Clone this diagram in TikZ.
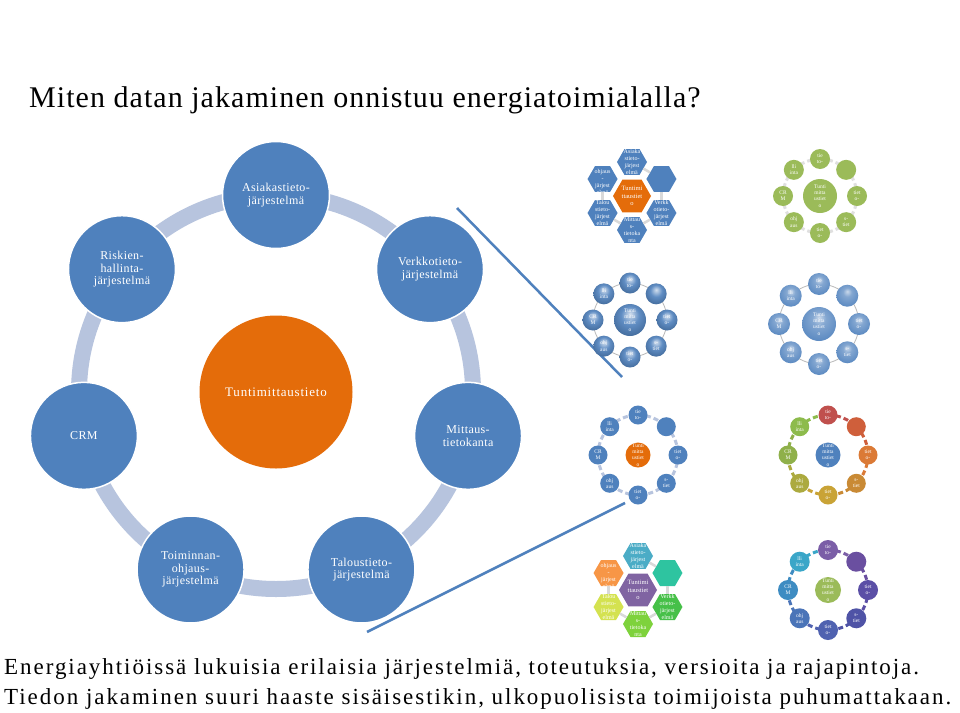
\documentclass[tikz,border=0pt]{standalone}
\usepackage{fontspec}
\setmainfont{Liberation Serif}
\usetikzlibrary{shapes.geometric,calc}
\definecolor{mblue}{HTML}{4F81BD}
\definecolor{morange}{HTML}{E46C0A}
\definecolor{ringc}{HTML}{B7C4DE}
\definecolor{tgreen}{HTML}{9BBB59}
\definecolor{tpurple}{HTML}{8064A2}
\pgfdeclareradialshading{glossdark}{\pgfpoint{0bp}{10bp}}{color(0bp)=(mblue!25!white); color(14bp)=(mblue!90!white); color(32bp)=(mblue!80!black); color(50bp)=(mblue!70!black)}
\pgfdeclareradialshading{glosslight}{\pgfpoint{0bp}{10bp}}{color(0bp)=(mblue!30!white); color(10bp)=(mblue!70!white); color(35bp)=(mblue); color(50bp)=(mblue!85!black)}
\newcommand\satlabel[1]{\ifcase#1\or tie\\to-\or \or tiet\\o-\or s-\\tiet\or tiet\\o-\or ohj\\aus\or CR\\M\or lli\\inta\fi}
\newcommand\hexlabel[1]{\ifcase#1\or Asiaka\\stieto-\\järjest\\elmä\or \or Verkk\\otieto-\\järjest\\elmä\or Mittau\\s-\\tietoka\\nta\or Talou\\stieto-\\järjest\\elmä\or nnan-\\ohjaus\\-\\järjest\\elmä\fi}
% #1 prefix, #2 centre, #3 ring radius, #4 satellite diameter, #5 centre style, #6 list angle/colour, #7 satellite fill key, #8 connector style
\newcommand\RingThumb[8]{%
  \coordinate (#1c) at (#2);
  \foreach \a/\col in {#6}{\draw[draw=\col,#8] ([shift={(\a:#3)}]#1c) arc[start angle=\a, end angle=\a-45, radius=#3];}
  \foreach \a/\col [count=\i] in {#6}{%
    \node[thshape, minimum size=#4, #7] (#1s\i) at ([shift={(\a:#3)}]#1c) {};
    \node[thtxt] (#1t\i) at (#1s\i) {\satlabel{\i}};}
  \node[thshape, #5] (#1m) at (#1c) {};
  \node[thtxt] (#1mt) at (#1m) {Tunti\\mitta\\ustiet\\o};
}
% #1 prefix, #2 centre, #3 list angle/colour, #4 centre colour
\newcommand\HexThumb[4]{%
  \coordinate (#1c) at (#2);
  \foreach \a/\col [count=\i] in {#3}{%
    \node[thhex, fill=\col] (#1s\i) at ([shift={(\a:34pt)}]#1c) {};
    \node[thtxt, font=\fontsize{6}{7.2}\selectfont] (#1t\i) at (#1s\i) {\hexlabel{\i}};}
  \foreach \i/\j in {1/2,2/3,3/4,4/5,5/6}{\draw[chev] (#1s\i) -- (#1s\j);}
  \node[thhex, minimum size=38pt, fill=#4] (#1m) at (#1c) {};
  \node[thtxt, font=\fontsize{6.5}{7.5}\selectfont] (#1mt) at (#1m) {Tuntimi\\ttaustiet\\o};
}
\begin{document}
\begin{tikzpicture}[x=1pt,y=-1pt,
  mc/.style={circle, fill=mblue, draw=white, line width=1.5pt, minimum size=107pt, inner sep=0pt,
    text=white, align=center, font=\fontsize{12}{12.5}\selectfont\addfontfeatures{LetterSpace=3}},
  thshape/.style={circle, inner sep=0pt, draw=none},
  thtxt/.style={inner sep=0pt, text=white, align=center, font=\fontsize{5.5}{6.2}\selectfont},
  thhex/.style={regular polygon, regular polygon sides=6, minimum size=30pt, inner sep=0pt, draw=none},
  chev/.style={gray!30, line width=2.5pt},
  ptr/.style={mblue, line width=2.5pt},
  foot/.style={anchor=base west, inner sep=0pt, font=\fontsize{23}{28}\selectfont\addfontfeatures{LetterSpace=8.5}}]
\useasboundingbox (0,0) rectangle (960,712);
\fill[white] (0,0) rectangle (960,712);

% title and footer
\node[anchor=base west, inner sep=0pt, font=\fontsize{30}{36}\selectfont\addfontfeatures{LetterSpace=3.5}] (title) at (29,107) {Miten datan jakaminen onnistuu energiatoimialalla?};
\node[foot] (foot1) at (4,674) {Energiayhtiöissä lukuisia erilaisia järjestelmiä, toteutuksia, versioita ja rajapintoja.};
\node[foot] (foot2) at (4,704) {Tiedon jakaminen suuri haaste sisäisestikin, ulkopuolisista toimijoista puhumattakaan.};

% main cycle
\coordinate (ctr) at (276,392);
\draw[ringc, line width=16pt] (ctr) circle[radius=197pt];
\node[circle, fill=morange, minimum size=153pt, inner sep=0pt, text=white,
  font=\fontsize{13}{13}\selectfont\addfontfeatures{LetterSpace=6}] (tunti) at (ctr) {Tuntimittaustieto};
\node[mc] (asiak)   at ([shift={(90:197pt)}]ctr)     {Asiakastieto-\\järjestelmä};
\node[mc] (riski)   at ([shift={(141.43:197pt)}]ctr) {Riskien-\\hallinta-\\järjestelmä};
\node[mc] (crm)     at ([shift={(192.86:197pt)}]ctr) {CRM};
\node[mc] (toim)    at ([shift={(244.29:197pt)}]ctr) {Toiminnan-\\ohjaus-\\järjestelmä};
\node[mc] (talous)  at ([shift={(295.71:197pt)}]ctr) {Taloustieto-\\järjestelmä};
\node[mc] (mittaus) at ([shift={(347.14:197pt)}]ctr) {Mittaus-\\tietokanta};
\node[mc] (verkko)  at ([shift={(38.57:197pt)}]ctr)  {Verkkotieto-\\järjestelmä};

% pointer lines
\coordinate (l1a) at (457,208); \coordinate (l1b) at (622,377);
\coordinate (l2a) at (367,632); \coordinate (l2b) at (625,503);
\draw[ptr] (l1a) -- (l1b);
\draw[ptr] (l2a) -- (l2b);

% thumbnails
\HexThumb{hA}{632,196}{90/mblue,30/mblue,-30/mblue,-90/mblue,-150/mblue,150/mblue}{morange}
\HexThumb{hB}{638,590}{90/{rgb,255:red,75;green,172;blue,198},30/{rgb,255:red,46;green,196;blue,160},-30/{rgb,255:red,70;green,192;blue,72},-90/{rgb,255:red,126;green,210;blue,60},-150/{rgb,255:red,212;green,226;blue,80},150/{rgb,255:red,247;green,150;blue,70}}{tpurple}

\RingThumb{rA}{820,196}{37pt}{20pt}{minimum size=34pt, fill=tgreen}
  {90/tgreen,45/tgreen,0/tgreen,-45/tgreen,-90/tgreen,-135/tgreen,180/tgreen,135/tgreen}
  {fill=\col}{draw=gray!25, line width=3pt, dash pattern=on 5pt off 3pt}

\RingThumb{rB}{630,320}{37pt}{21pt}{minimum size=32pt, shading=glossdark}
  {90/mblue,45/mblue,0/mblue,-45/mblue,-90/mblue,-135/mblue,180/mblue,135/mblue}
  {shading=glossdark}{draw=gray!55, line width=0.8pt}

\RingThumb{rC}{819,324}{40pt}{22pt}{minimum size=34pt, shading=glosslight}
  {90/mblue,45/mblue,0/mblue,-45/mblue,-90/mblue,-135/mblue,180/mblue,135/mblue}
  {shading=glosslight}{draw=gray!55, line width=0.8pt}

\RingThumb{rD}{638,455}{40pt}{19pt}{minimum size=25pt, fill=morange}
  {90/mblue,45/mblue,0/mblue,-45/mblue,-90/mblue,-135/mblue,180/mblue,135/mblue}
  {fill=\col}{draw=ringc, line width=3pt, dash pattern=on 5pt off 3pt}

\RingThumb{rE}{828,455}{40pt}{19pt}{minimum size=25pt, fill=mblue}
  {90/{rgb,255:red,192;green,80;blue,77},45/{rgb,255:red,207;green,95;blue,59},0/{rgb,255:red,219;green,122;blue,54},-45/{rgb,255:red,201;green,138;blue,53},-90/{rgb,255:red,201;green,163;blue,54},-135/{rgb,255:red,172;green,170;blue,63},180/{rgb,255:red,143;green,176;blue,74},135/{rgb,255:red,141;green,187;blue,76}}
  {fill=\col}{line width=3pt, dash pattern=on 5pt off 3pt}

\RingThumb{rF}{828,590}{40pt}{20pt}{minimum size=26pt, fill=tgreen}
  {90/{rgb,255:red,123;green,94;blue,167},45/{rgb,255:red,106;green,79;blue,160},0/{rgb,255:red,91;green,79;blue,166},-45/{rgb,255:red,79;green,83;blue,166},-90/{rgb,255:red,80;green,98;blue,176},-135/{rgb,255:red,74;green,116;blue,184},180/{rgb,255:red,62;green,140;blue,194},135/{rgb,255:red,58;green,166;blue,200}}
  {fill=\col}{line width=3pt, dash pattern=on 5pt off 3pt}
\end{tikzpicture}
\end{document}
